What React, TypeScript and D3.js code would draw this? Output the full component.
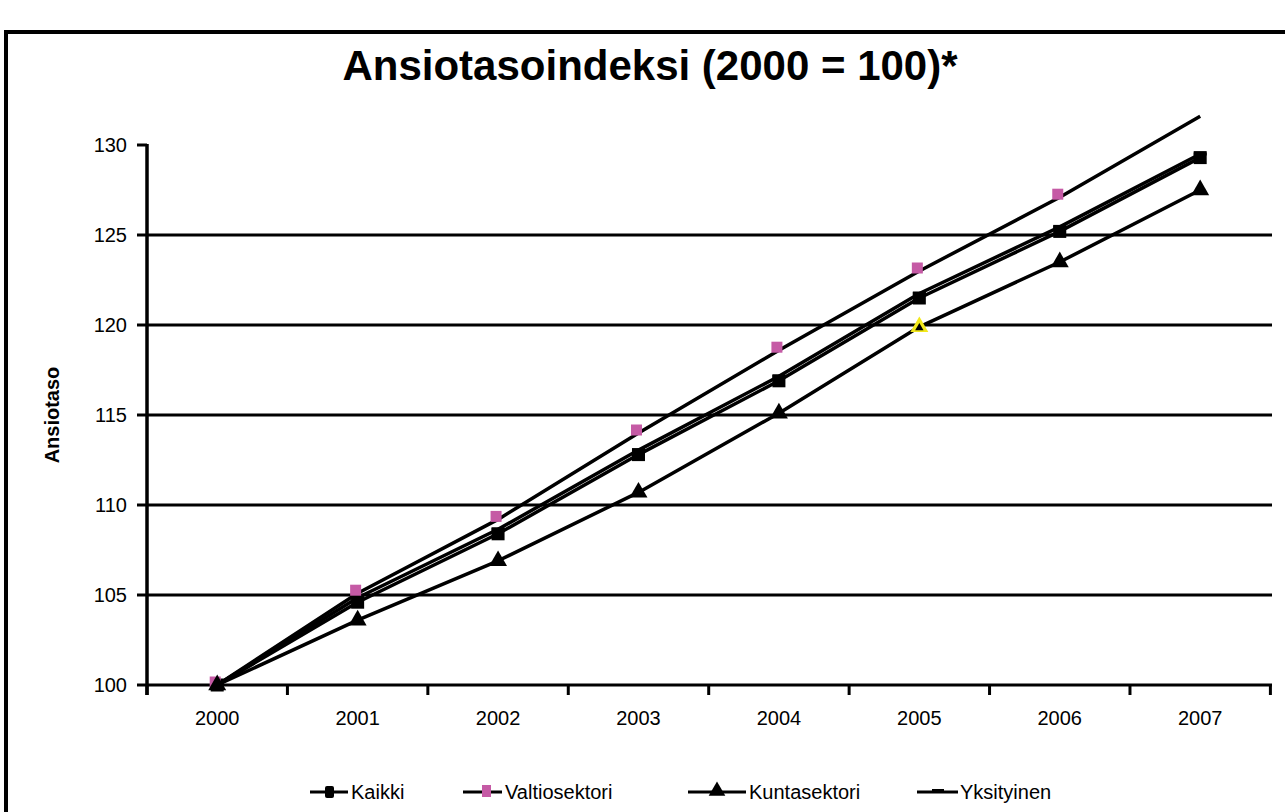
import React from "react";
import * as d3 from "d3";

const years = ["2000", "2001", "2002", "2003", "2004", "2005", "2006", "2007"];
const kaikki = [100, 104.6, 108.4, 112.8, 116.9, 121.5, 125.2, 129.3];
const valtiosektori = [100, 105.1, 109.2, 114.0, 118.6, 123.0, 127.1, 131.6];
const kuntasektori = [100, 103.6, 106.9, 110.7, 115.1, 119.9, 123.5, 127.5];
const yksityinen = [100, 104.85, 108.65, 113.05, 117.15, 121.75, 125.45, 129.5];
const yTicks = [100, 105, 110, 115, 120, 125, 130];
const highlightKunta = ["2005"];

const W = 1285;
const H = 812;
const FONT = "'Liberation Sans', Arial, Helvetica, sans-serif";
const PINK = "#c55aa5";
const YELLOW = "#f2e81a";

export default function App() {
  const x = d3.scaleBand().domain(years).range([147, 1270.4]).padding(0);
  const cx = (yr: string) => (x(yr) as number) + x.bandwidth() / 2;
  const y = d3.scaleLinear().domain([100, 130]).range([685, 145]);

  const line = d3
    .line<number>()
    .x((_, i) => cx(years[i]))
    .y((v) => y(v));

  const tri = d3.symbol().type(d3.symbolTriangle).size(140);
  const triLeg = d3.symbol().type(d3.symbolTriangle).size(120);
  const triSmall = d3.symbol().type(d3.symbolTriangle).size(30);

  const series = [yksityinen, kaikki, valtiosektori, kuntasektori];
  const boundaries = years.map((yr) => x(yr) as number).concat([1270.4]);

  return (
    <svg
      width={W}
      height={H}
      style={{ position: "absolute", left: 0, top: 0, background: "#fff" }}
      fontFamily={FONT}
    >
      <rect x={0} y={0} width={W} height={H} fill="#fff" />
      <rect x={6} y={32} width={1300} height={820} fill="none" stroke="#000" strokeWidth={4} />

      <text x={650} y={80} textAnchor="middle" fontSize={42} fontWeight="bold" fill="#000">
        Ansiotasoindeksi (2000 = 100)*
      </text>

      {/* gridlines */}
      {yTicks
        .filter((t) => t !== 100 && t !== 130)
        .map((t) => (
          <line key={t} x1={147} x2={1272} y1={y(t)} y2={y(t)} stroke="#000" strokeWidth={3} />
        ))}

      {/* series lines */}
      {series.map((s, i) => (
        <path key={i} d={line(s) || ""} fill="none" stroke="#000" strokeWidth={3.5} strokeLinejoin="round" />
      ))}

      {/* x axis */}
      <line x1={147} x2={1272} y1={y(100)} y2={y(100)} stroke="#000" strokeWidth={3} />
      {boundaries.map((b, i) => (
        <line key={i} x1={b} x2={b} y1={y(100)} y2={y(100) + 10} stroke="#000" strokeWidth={3} />
      ))}
      {years.map((yr) => (
        <text key={yr} x={cx(yr)} y={y(100) + 40} textAnchor="middle" fontSize={20} fill="#000">
          {yr}
        </text>
      ))}

      {/* y axis */}
      <line x1={147} x2={147} y1={y(130) - 1} y2={y(100) + 10} stroke="#000" strokeWidth={3.5} />
      {yTicks.map((t) => (
        <g key={t}>
          <line x1={137} x2={147} y1={y(t)} y2={y(t)} stroke="#000" strokeWidth={3} />
          <text x={127} y={y(t)} dy="0.36em" textAnchor="end" fontSize={20} fill="#000">
            {t}
          </text>
        </g>
      ))}
      <text
        transform={`translate(52,${(y(100) + y(130)) / 2}) rotate(-90)`}
        textAnchor="middle"
        dy="0.35em"
        fontSize={20}
        fontWeight="bold"
        fill="#000"
      >
        Ansiotaso
      </text>

      {/* markers: Yksityinen dash */}
      {yksityinen.map((v, i) => (
        <rect key={"yk" + i} x={cx(years[i]) - 6.5} y={y(v) - 1.5} width={13} height={3} fill="#000" />
      ))}
      {/* Kaikki squares */}
      {kaikki.map((v, i) => (
        <rect key={"ka" + i} x={cx(years[i]) - 6.5} y={y(v) - 6.5} width={13} height={13} fill="#000" />
      ))}
      {/* Valtiosektori pink squares (within axis range) */}
      {valtiosektori.map((v, i) =>
        v <= 130 ? (
          <rect key={"va" + i} x={cx(years[i]) - 7.5} y={y(v) - 8.5} width={11} height={11} fill={PINK} />
        ) : null
      )}
      {/* Kuntasektori triangles */}
      {kuntasektori.map((v, i) => {
        const hl = highlightKunta.includes(years[i]);
        return (
          <g key={"ku" + i} transform={`translate(${cx(years[i])},${y(v)})`}>
            {hl ? (
              <>
                <path d={tri() || ""} fill={YELLOW} />
                <path d={triSmall() || ""} fill="#000" transform="translate(0,1)" />
              </>
            ) : (
              <path d={tri() || ""} fill="#000" />
            )}
          </g>
        );
      })}

      {/* legend */}
      <g fontSize={20} fill="#000">
        <g transform="translate(0,792)">
          <line x1={310} x2={348} y1={0} y2={0} stroke="#000" strokeWidth={3} />
          <rect x={325} y={-6} width={9} height={12} rx={2} fill="#000" />
          <text x={351} y={0} dy="0.36em">Kaikki</text>

          <line x1={463} x2={502} y1={0} y2={0} stroke="#000" strokeWidth={3} />
          <rect x={482} y={-7} width={9} height={12} fill={PINK} />
          <text x={505} y={0} dy="0.36em">Valtiosektori</text>

          <line x1={688} x2={746} y1={0} y2={0} stroke="#000" strokeWidth={3} />
          <path d={triLeg() || ""} transform="translate(717,-1)" fill="#000" />
          <text x={749} y={0} dy="0.36em">Kuntasektori</text>

          <line x1={917} x2={958} y1={0} y2={0} stroke="#000" strokeWidth={3} />
          <rect x={932} y={-3} width={12} height={4} fill="#000" />
          <text x={960} y={0} dy="0.36em">Yksityinen</text>
        </g>
      </g>
    </svg>
  );
}
